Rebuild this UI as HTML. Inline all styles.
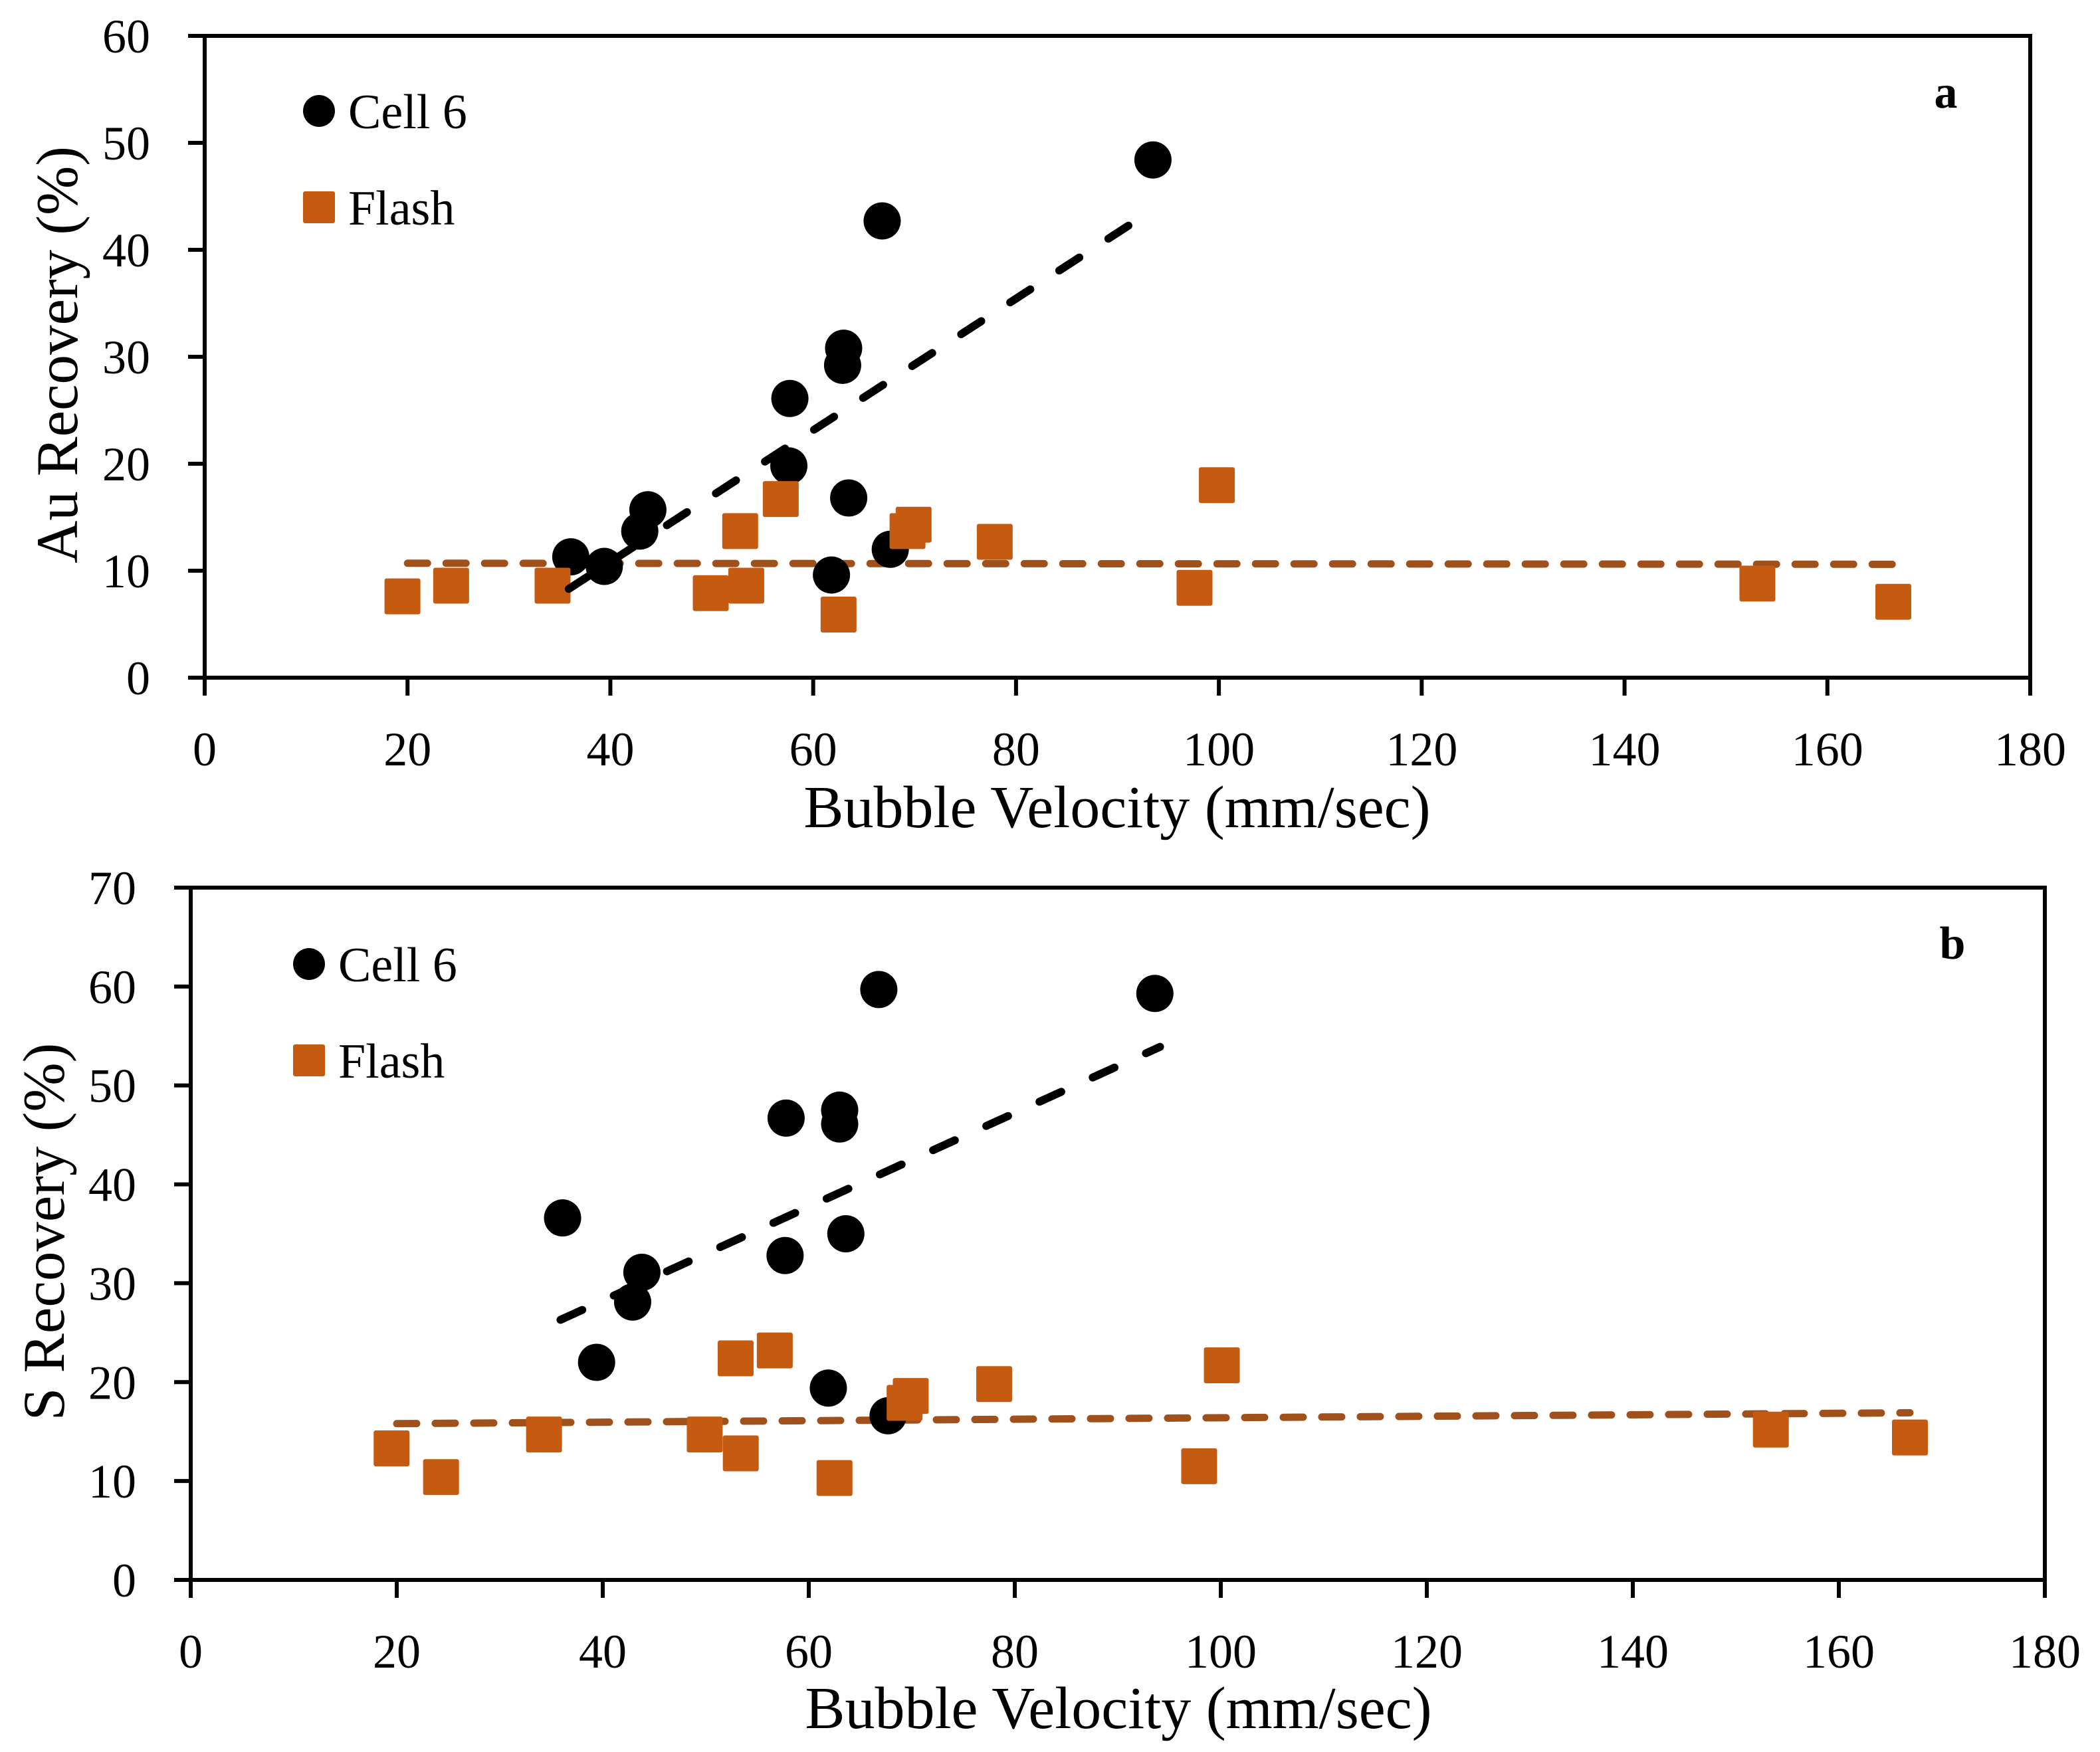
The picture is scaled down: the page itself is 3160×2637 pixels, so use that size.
<!DOCTYPE html>
<html><head><meta charset="utf-8"><style>
html,body{margin:0;padding:0;background:#fff}
svg{display:block}
text{font-family:"Liberation Serif",serif;fill:#000}
</style></head><body>
<svg id="chart" width="3160" height="2637" viewBox="0 0 3160 2637" xmlns="http://www.w3.org/2000/svg"></svg>
<script>
const xTicks=[0,20,40,60,80,100,120,140,160,180];
const yTicksA=[0,10,20,30,40,50,60];
const yTicksB=[0,10,20,30,40,50,60,70];
const cellXA=[36.1,39.4,42.9,43.7,57.7,57.6,61.8,62.9,63.0,63.5,67.6,66.8,93.5];
const cellYA=[11.3,10.4,13.7,15.7,26.1,19.8,9.6,29.2,30.8,16.8,12.0,42.7,48.4];
const flashXA=[19.5,24.3,34.3,49.9,52.8,53.4,56.8,62.5,69.3,69.9,77.9,97.6,99.8,153.1,166.5];
const flashYA=[7.6,8.6,8.6,7.9,13.7,8.6,16.7,5.9,13.7,14.3,12.7,8.4,18.0,8.8,7.1];
const cellTrendXA=[35.9,91.8];
const cellTrendYA=[8.3,42.7];
const flashTrendXA=[20,166.5];
const flashTrendYA=[10.7,10.6];
const cellXB=[36.1,39.4,42.9,43.8,57.8,57.7,61.9,63.0,63.0,63.6,67.7,66.8,93.6];
const cellYB=[36.6,22.0,28.1,31.1,46.7,32.8,19.4,46.1,47.5,35.0,16.6,59.7,59.3];
const flashXB=[19.5,24.3,34.3,49.9,52.9,53.4,56.7,62.5,69.3,69.9,78.0,97.9,100.1,153.4,166.9];
const flashYB=[13.3,10.4,14.7,14.7,22.4,12.8,23.2,10.3,17.9,18.6,19.8,11.5,21.7,15.2,14.4];
const cellTrendXB=[35.9,94.1];
const cellTrendYB=[26.3,53.9];
const flashTrendXB=[20,166.9];
const flashTrendYB=[15.8,16.9];

const NS="http://www.w3.org/2000/svg";
const svg=document.getElementById('chart');
const ORANGE="#C55A11";
function mk(tag,attrs,parent){const e=document.createElementNS(NS,tag);for(const k in attrs)e.setAttribute(k,attrs[k]);(parent||svg).appendChild(e);return e;}

function panel(cfg){
  const g=mk('g',{});
  
  
  const sx=v=>cfg.x0+(v-0)/(180)*(cfg.x1-cfg.x0);
  const sy=v=>cfg.y0-(v/cfg.ymax)*(cfg.y0-cfg.y1);
  const frame=mk('rect',{x:cfg.x0,y:cfg.y1,width:cfg.x1-cfg.x0,height:cfg.y0-cfg.y1,fill:'none',stroke:'#000','stroke-width':6},g);
  
  
  xTicks.forEach(t=>{
    const X=sx(t);
    const l=mk('line',{x1:X,x2:X,y1:cfg.y0,y2:cfg.y0+27,stroke:'#000','stroke-width':6},g);
    
    
    const tx=mk('text',{x:X,y:cfg.y0+132,'font-size':72,'text-anchor':'middle'},g);
    tx.textContent=t;
    
    
  });
  cfg.yTicks.forEach(t=>{
    const Y=sy(t);
    const l=mk('line',{x1:cfg.x0-25,x2:cfg.x0,y1:Y,y2:Y,stroke:'#000','stroke-width':6},g);
    
    
    const tx=mk('text',{x:cfg.x0-82,y:Y+25,'font-size':72,'text-anchor':'end'},g);
    tx.textContent=t;
    
    
  });
  const xt=mk('text',{x:cfg.xtX,y:cfg.xtY,'font-size':90,'text-anchor':'middle'},g);
  xt.textContent='Bubble Velocity (mm/sec)';
  
  
  const yt=mk('text',{x:0,y:0,'font-size':89,'text-anchor':'middle',transform:`translate(${cfg.ytX},${cfg.ytY}) rotate(-90)`},g);
  yt.textContent=cfg.ytitle;
  
  
  const ft=mk('line',{x1:sx(cfg.ftx[0]),y1:sy(cfg.fty[0]),x2:sx(cfg.ftx[1]),y2:sy(cfg.fty[1]),stroke:'#A0501A','stroke-width':11,'stroke-linecap':'round','stroke-dasharray':'30 28'},g);
  
  
  cfg.cx.forEach((v,i)=>{
    const c=mk('circle',{cx:sx(v),cy:sy(cfg.cy[i]),r:28,fill:'#000'},g);
    
    
  });
  cfg.fx.forEach((v,i)=>{
    const r=mk('rect',{x:sx(v)-27,y:sy(cfg.fy[i])-27,width:54,height:54,rx:3,fill:ORANGE},g);
    
    
  });
  const ct=mk('line',{x1:sx(cfg.ctx[0]),y1:sy(cfg.cty[0]),x2:sx(cfg.ctx[1]),y2:sy(cfg.cty[1]),stroke:'#000','stroke-width':12,'stroke-linecap':'round','stroke-dasharray':'36 52'},g);
  
  
  const lc=mk('circle',{cx:cfg.lx,cy:cfg.ly1,r:24,fill:'#000'},g);
  
  
  const lt1=mk('text',{x:cfg.lx+44,y:cfg.ly1+26,'font-size':74},g);
  lt1.textContent='Cell 6';
  
  
  const ls=mk('rect',{x:cfg.lx-24,y:cfg.ly2-24,width:48,height:48,rx:3,fill:ORANGE},g);
  
  
  const lt2=mk('text',{x:cfg.lx+44,y:cfg.ly2+26,'font-size':74},g);
  lt2.textContent='Flash';
  
  
  const pl=mk('text',{x:cfg.plX,y:cfg.plY,'font-size':70,'font-weight':'bold','text-anchor':'middle'},g);
  pl.textContent=cfg.label;
  
  
}

panel({name:'chart-a',x0:308,x1:3055,y0:1020,y1:54,ymax:60,yTicks:yTicksA,
  cx:cellXA,cy:cellYA,fx:flashXA,fy:flashYA,ctx:cellTrendXA,cty:cellTrendYA,ftx:flashTrendXA,fty:flashTrendYA,
  xtX:1681,xtY:1245,ytX:116,ytY:534,ytitle:'Au Recovery (%)',lx:480,ly1:167,ly2:312,plX:2928,plY:162,label:'a'});
panel({name:'chart-b',x0:287,x1:3077,y0:2378,y1:1336,ymax:70,yTicks:yTicksB,
  cx:cellXB,cy:cellYB,fx:flashXB,fy:flashYB,ctx:cellTrendXB,cty:cellTrendYB,ftx:flashTrendXB,fty:flashTrendYB,
  xtX:1683,xtY:2601,ytX:96,ytY:1854,ytitle:'S Recovery (%)',lx:465,ly1:1451,ly2:1596,plX:2938,plY:1443,label:'b'});
</script>
</body></html>
